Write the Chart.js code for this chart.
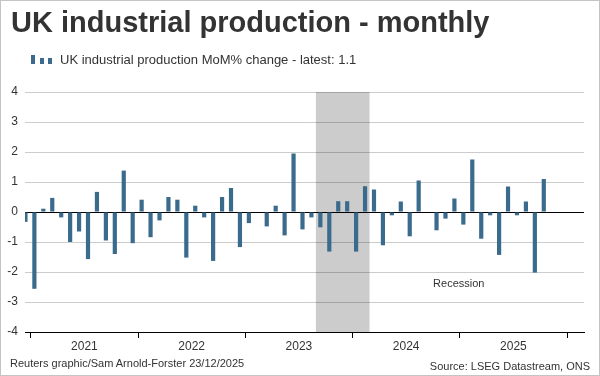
<!DOCTYPE html>
<html>
<head>
<meta charset="utf-8">
<script src="https://cdn.jsdelivr.net/npm/chart.js@4.4.1/dist/chart.umd.min.js"></script>
<style>
  html, body { margin: 0; padding: 0; background: #fff; }
  #wrap { position: relative; width: 600px; height: 376px; box-sizing: border-box; border: 1px solid #c4c4c4; overflow: hidden; font-family: "Liberation Sans", Arial, sans-serif; color: #333; }
  #chart { position: absolute; left: -1px; top: -1px; }
  .title { position: absolute; left: 10px; top: 5px; font-size: 29px; font-weight: bold; color: #333; white-space: nowrap; }
  .legend { position: absolute; left: 59px; top: 51px; font-size: 13px; white-space: nowrap; }
  .key { position: absolute; width: 4px; background: #3b6b8c; }
  .foot { position: absolute; font-size: 11px; white-space: nowrap; }
</style>
</head>
<body>
<div id="wrap">
  <canvas id="chart" width="600" height="376"></canvas>
  <div class="title">UK industrial production - monthly</div>
  <div class="key" style="left:30px; top:54px; height:9px;"></div>
  <div class="key" style="left:39px; top:57px; height:6px;"></div>
  <div class="key" style="left:47px; top:57px; height:6px;"></div>
  <div class="legend">UK industrial production MoM% change - latest: 1.1</div>
  <div class="foot" style="left:9px; top:356px;">Reuters graphic/Sam Arnold-Forster 23/12/2025</div>
  <div class="foot" style="right:9px; top:359px;">Source: LSEG Datastream, ONS</div>
</div>
<script>
const months = [
  "Dec 2020",
  "Jan 2021", "Feb 2021", "Mar 2021", "Apr 2021", "May 2021", "Jun 2021", "Jul 2021", "Aug 2021", "Sep 2021", "Oct 2021", "Nov 2021", "Dec 2021",
  "Jan 2022", "Feb 2022", "Mar 2022", "Apr 2022", "May 2022", "Jun 2022", "Jul 2022", "Aug 2022", "Sep 2022", "Oct 2022", "Nov 2022", "Dec 2022",
  "Jan 2023", "Feb 2023", "Mar 2023", "Apr 2023", "May 2023", "Jun 2023", "Jul 2023", "Aug 2023", "Sep 2023", "Oct 2023", "Nov 2023", "Dec 2023",
  "Jan 2024", "Feb 2024", "Mar 2024", "Apr 2024", "May 2024", "Jun 2024", "Jul 2024", "Aug 2024", "Sep 2024", "Oct 2024", "Nov 2024", "Dec 2024",
  "Jan 2025", "Feb 2025", "Mar 2025", "Apr 2025", "May 2025", "Jun 2025", "Jul 2025", "Aug 2025", "Sep 2025", "Oct 2025"
];
const momChange = [
  -0.33,
  -2.56, 0.11, 0.47, -0.18, -1.0, -0.65, -1.57, 0.67, -0.95, -1.4, 1.38, -1.04,
  0.41, -0.84, -0.28, 0.5, 0.41, -1.52, 0.21, -0.18, -1.63, 0.5, 0.8, -1.17,
  -0.37, 0.0, -0.48, 0.21, -0.78, 1.95, -0.58, -0.18, -0.51, -1.32, 0.36, 0.36,
  -1.32, 0.86, 0.75, -1.11, -0.11, 0.35, -0.81, 1.05, 0.0, -0.61, -0.22, 0.45,
  -0.42, 1.75, -0.89, -0.11, -1.43, 0.85, -0.11, 0.35, -2.02, 1.1
];
const years = ["2021", "2022", "2023", "2024", "2025"];
const yTicks = [-4, -3, -2, -1, 0, 1, 2, 3, 4];
const recession = ["Sep 2023", "Feb 2024"];

// month position: Jan 2021 = 0
const pos = (m) => months.indexOf(m) - 1;
const points = months.map((m, i) => ({ x: pos(m), y: momChange[i] }));
const yearStart = (k) => k * 12 - 0.4;

const recessionPlugin = {
  id: "recession",
  beforeDraw(chart) {
    const { ctx, chartArea, scales } = chart;
    const x0 = scales.x.getPixelForValue(pos(recession[0]) - 0.5);
    const x1 = scales.x.getPixelForValue(pos(recession[1]) + 0.5);
    ctx.save();
    ctx.fillStyle = "#cccccc";
    ctx.fillRect(x0, chartArea.top, x1 - x0, chartArea.bottom - chartArea.top);
    ctx.restore();
  },
  afterDatasetsDraw(chart) {
    const { ctx, scales } = chart;
    ctx.save();
    ctx.font = "11px 'Liberation Sans', Arial, sans-serif";
    ctx.fillStyle = "#333";
    ctx.textAlign = "center";
    ctx.textBaseline = "middle";
    ctx.fillText("Recession", scales.x.getPixelForValue(yearStart(4)) - 1, scales.y.getPixelForValue(-2.4));
    ctx.restore();
  }
};

new Chart(document.getElementById("chart").getContext("2d"), {
  type: "bar",
  data: {
    datasets: [
      {
        label: "UK industrial production MoM% change",
        data: points,
        backgroundColor: "#3b6b8c",
        barPercentage: 0.47,
        categoryPercentage: 1,
      },
    ],
  },
  plugins: [recessionPlugin],
  options: {
    responsive: false,
    animation: false,
    layout: { padding: { top: 92, right: 16, bottom: 0, left: 0 } },
    scales: {
      x: {
        type: "linear",
        offset: false,
        min: -1.05,
        max: 61.5,
        afterFit: (s) => { s.height = 44; },
        afterBuildTicks: (s) => {
          const t = [];
          for (let k = 0; k <= years.length; k++) {
            t.push({ value: yearStart(k) });
            if (k < years.length) t.push({ value: yearStart(k) + 6 });
          }
          s.ticks = t;
        },
        ticks: {
          autoSkip: false,
          maxRotation: 0,
          padding: 1,
          color: "#333",
          font: { family: "'Liberation Sans', Arial, sans-serif", size: 12 },
          callback: (v) => {
            const k = Math.round((v - yearStart(0) - 6) / 12);
            return Math.abs(v - (yearStart(k) + 6)) < 0.01 ? years[k] : "";
          },
        },
        grid: {
          offset: false,
          drawOnChartArea: false,
          drawTicks: true,
          tickLength: 6,
          tickColor: (c) => (c.tick && c.tick.label ? "rgba(0,0,0,0)" : "#000"),
        },
        border: { display: true, color: "#000", width: 1 },
      },
      y: {
        min: -4,
        max: 4,
        afterFit: (s) => { s.width = 25; },
        afterBuildTicks: (s) => { s.ticks = yTicks.map((v) => ({ value: v })); },
        ticks: {
          padding: 7,
          color: "#333",
          font: { family: "'Liberation Sans', Arial, sans-serif", size: 12 },
          callback: (v) => String(v),
        },
        grid: {
          drawTicks: false,
          color: (c) => (c.tick && c.tick.value === 0 ? "#000" : "rgba(0,0,0,0.2)"),
        },
        border: { display: false },
      },
    },
    plugins: {
      legend: { display: false },
      tooltip: { enabled: false },
    },
  },
});
</script>
</body>
</html>
